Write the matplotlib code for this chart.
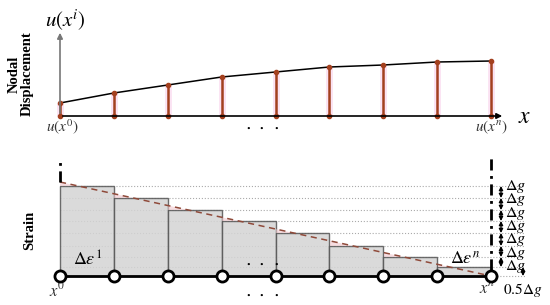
import numpy as np
import matplotlib.pyplot as plt

plt.rcParams['mathtext.fontset'] = 'stix'

# nodal displacements (top) and element strains (bottom), schematic units
nodes = np.arange(9)
u_nodal = np.array([13, 23, 31, 39, 44, 49, 51, 54, 55])
strain = np.array([90, 78, 66, 55, 43, 30, 19, 9])
strain_line = np.array([94, 0])   # linear strain at x0 and xn
dg_levels = [90, 78, 66, 55, 43, 30, 19, 9, 0]

red = '#a3401f'
px = 431 / 8.0   # pixels per node spacing
x0 = -60 / px
x1 = (550 - 60) / px

fig = plt.figure(figsize=(5.5, 3.05), dpi=100)
ax1 = fig.add_axes([0, 1 - 145 / 305, 1, 145 / 305])
ax2 = fig.add_axes([0, 0, 1, 160 / 305])
for ax in (ax1, ax2):
    ax.set_xlim(x0, x1)
    ax.axis('off')
ax1.set_ylim(-29, 116)
ax2.set_ylim(-29, 131)

# ---- top: nodal displacement ----
ax1.annotate('', xy=(0, 86), xytext=(0, 0),
             arrowprops=dict(arrowstyle='-|>', color='#777777', lw=1.2, mutation_scale=8))
ax1.annotate('', xy=(8.26, 0), xytext=(0, 0),
             arrowprops=dict(arrowstyle='-|>', color='black', lw=1.2, mutation_scale=8))
ax1.vlines(nodes, 0, u_nodal, color='#f7c8e8', lw=5, alpha=0.5)
ax1.vlines(nodes, 0, u_nodal, color=red, lw=1.8)
ax1.plot(nodes, u_nodal, color='black', lw=1.1)
ax1.plot(nodes, u_nodal, 'o', color=red, ms=3)
ax1.plot(nodes, np.zeros(9), 'o', color=red, ms=3)

ax1.text(0.1, 96, r'$u\left(x^i\right)$', fontsize=15, ha='center', va='center')
ax1.text(0.05, -11, r'$u(x^0)$', fontsize=11, ha='center', va='center', color='#333333')
ax1.text(8.0, -11, r'$u(x^n)$', fontsize=11, ha='center', va='center', color='#333333')
ax1.text(8.63, 0, r'$x$', fontsize=17, ha='center', va='center')
ax1.text(-0.72, 42, 'Nodal\nDisplacement', rotation=90, fontsize=10.5, fontweight='bold',
         family='Liberation Serif', ha='center', va='center', linespacing=1.0)
ax1.text(3.76, -10, r'$\cdot\ \cdot\ \cdot$', fontsize=14, ha='center', va='center')

# ---- bottom: strain ----
edges = np.arange(9)
for lv in dg_levels:
    start = 0 if lv > 0 else 8
    ax2.hlines(lv, start, 8.63, color='#aaaaaa', lw=0.8, linestyle=':', zorder=1)
ax2.bar(edges[:-1], strain, width=1, align='edge', color='#d4d4d4', alpha=0.85,
        edgecolor='#555555', lw=1.0, zorder=2)

xs = np.linspace(0, 8, 400)
line = np.interp(xs, [0, 8], strain_line)
step = strain[np.minimum(xs.astype(int), 7)]
ax2.fill_between(xs, step, line, where=line > step, color='#f2c9cf', alpha=0.6,
                 lw=0, zorder=2.5)
ax2.plot([0, 8], strain_line, color='#8f4a3a', lw=1.1, linestyle=(0, (4, 3)), zorder=3)

ax2.plot([0, 8], [0, 0], color='black', lw=2, zorder=4)
ax2.plot(nodes, np.zeros(9), 'o', mfc='white', mec='black', mew=2, ms=8, zorder=5)

ax2.vlines(0, 94, 118, color='black', lw=2, linestyle=(0, (4, 2, 1, 2)), zorder=4)
ax2.vlines(8, 6, 118, color='black', lw=2, linestyle=(0, (4, 2, 1, 2)), zorder=4)

# delta-g arrows between consecutive strain levels, labels as one stacked text
xa = (501 - 60) / px
for top, bot in zip(dg_levels[:-2], dg_levels[1:-1]):
    ax2.annotate('', xy=(xa, bot), xytext=(xa, top),
                 arrowprops=dict(arrowstyle='<|-|>', color='black', lw=0.9,
                                 mutation_scale=6, shrinkA=0, shrinkB=0))
n_dg = len(dg_levels) - 2
ax2.text(xa + 0.07, (dg_levels[0] + dg_levels[-2]) / 2,
         '\n'.join([r'$\Delta g$'] * n_dg), fontsize=11.5, linespacing=0.7,
         ha='left', va='center')
xb = (523 - 60) / px
ax2.annotate('', xy=(xb, 0), xytext=(xb, 9),
             arrowprops=dict(arrowstyle='<|-|>', color='black', lw=0.9,
                             mutation_scale=6, shrinkA=0, shrinkB=0))
ax2.text(8.58, -14, r'$0.5\Delta g$', fontsize=11, ha='center', va='center')

ax2.text(0.52, 16, r'$\Delta\varepsilon^1$', fontsize=13, ha='center', va='center')
ax2.text(7.52, 17, r'$\Delta\varepsilon^n$', fontsize=13, ha='center', va='center')
ax2.text(3.76, 14, r'$\cdot\ \cdot\ \cdot$', fontsize=14, ha='center', va='center')
ax2.text(3.76, -17, r'$\cdot\ \cdot\ \cdot$', fontsize=14, ha='center', va='center')
ax2.text(-0.05, -14, r'$x^0$', fontsize=12, ha='center', va='center', color='#333333')
ax2.text(7.93, -12, r'$x^n$', fontsize=12, ha='center', va='center', color='#333333')
ax2.text(-0.57, 46, 'Strain', rotation=90, fontsize=10.5, fontweight='bold',
         family='Liberation Serif', ha='center', va='center')

fig.savefig('out.png', dpi=100)
